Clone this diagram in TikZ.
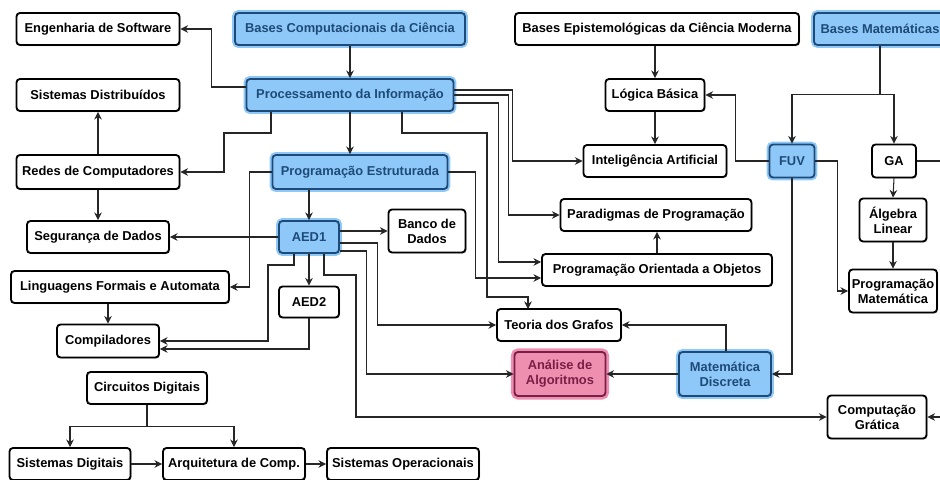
\documentclass[tikz,border=0pt]{standalone}
\usepackage{fontspec}
\setmainfont{Liberation Sans}
\usetikzlibrary{arrows.meta,shadows}
\definecolor{hlblue}{RGB}{142,200,248}
\definecolor{hltxt}{RGB}{30,74,120}
\definecolor{hlpink}{RGB}{238,143,176}
\definecolor{pktxt}{RGB}{122,30,69}

\begin{document}
\begin{tikzpicture}[x=0.03cm, y=-0.03cm,
    every node/.style={font=\bfseries\fontsize{11}{12.8}\selectfont},
    box/.style={draw, rounded corners=3pt, line width=1.6pt, fill=white, align=center,
        inner sep=1pt, minimum height=0.96cm,
        drop shadow={shadow xshift=0.9pt, shadow yshift=-0.9pt, fill=black!35, opacity=0.6}},
    bw/.style={minimum width=#1*0.03cm},
    bh/.style={minimum height=#1*0.03cm},
    hl/.style={fill=hlblue, text=hltxt, draw=hltxt, preaction={draw=hlblue, line width=5pt}},
    hlp/.style={fill=hlpink, text=pktxt, draw=pktxt, preaction={draw=hlpink, line width=6pt}},
    arr/.style={-{Stealth[length=6.5pt, width=6.5pt]}, line width=0.9pt, black!85}]
    \useasboundingbox (0,0) rectangle (940,480);
    \clip (0,0) rectangle (940,480);
    % top row
    \node[box, bw=163] (eng) at (98,29) {Engenharia de Software};
    \node[box, hl, bw=230] (bc) at (350,29) {Bases Computacionais da Ciência};
    \node[box, bw=284] (be) at (657,29) {Bases Epistemológicas da Ciência Moderna};
    \node[box, hl, bw=132] (bm) at (880,29) {Bases Matemáticas};
    % left column
    \node[box, bw=163] (sdist) at (98,95) {Sistemas Distribuídos};
    \node[box, bw=163, bh=34] (redes) at (98,172) {Redes de Computadores};
    \node[box, bw=142] (seg) at (98,237) {Segurança de Dados};
    \node[box, bw=218] (lfa) at (120,287) {Linguagens Formais e Automata};
    \node[box, bw=102, bh=33] (comp) at (108,341) {Compiladores};
    \node[box, bw=120] (cd) at (147,388) {Circuitos Digitais};
    \node[box, bw=121] (sdig) at (70,464) {Sistemas Digitais};
    \node[box, bw=142] (arq) at (234,464) {Arquitetura de Comp.};
    \node[box, bw=152] (so) at (403,464) {Sistemas Operacionais};
    % middle
    \node[box, hl, bw=207] (proc) at (350,95) {Processamento da Informação};
    \node[box, hl, bw=175, bh=34] (pe) at (360,172) {Programação Estruturada};
    \node[box, hl, bw=60] (aed1) at (309,237) {AED1};
    \node[box, bw=77, bh=43] (banco) at (427,231) {Banco de\\Dados};
    \node[box, bw=60, bh=31] (aed2) at (309,302) {AED2};
    \node[box, bw=124] (teoria) at (559,325) {Teoria dos Grafos};
    \node[box, hlp, bw=91, bh=44] (analise) at (560,374) {Análise de\\Algoritmos};
    % right
    \node[box, bw=99] (lb) at (655,95) {Lógica Básica};
    \node[box, bw=143] (ia) at (655,161) {Inteligência Artificial};
    \node[box, bw=191] (par) at (656,215) {Paradigmas de Programação};
    \node[box, bw=230] (poo) at (657,270) {Programação Orientada a Objetos};
    \node[box, hl, bw=45, bh=33] (fuv) at (792,161) {FUV};
    \node[box, bw=44, bh=33] (ga) at (894,161) {GA};
    \node[box, bw=67, bh=43] (al) at (893,220) {Álgebra\\Linear};
    \node[box, bw=88, bh=43] (pm) at (893,291) {Programação\\Matemática};
    \node[box, hl, bw=92, bh=44] (md) at (725,374) {Matemática\\Discreta};
    \node[box, bw=99, bh=43] (cg) at (877,417) {Computação\\Grática};

    % connectors
    \draw[arr] (bc.south) -- (proc.north);
    \draw[arr] ([shift={(0,-8)}]proc.west) -- ++(-34,0) |- (eng.east);
    \draw[arr] (proc.south) -- (proc.south |- pe.north);
    \draw[arr] ([shift={(-79,0)}]proc.south) |- (224,133) |- (redes.east);
    \draw[arr] ([shift={(52,0)}]proc.south) |- (487,133) |- (528,297) -- (528,309);
    \draw[arr] ([shift={(0,-5)}]proc.east) -- ++(58,0) |- (ia.west);
    \draw[arr] (proc.east) -- ++(54,0) |- (par.west);
    \draw[arr] ([shift={(0,8)}]proc.east) -- ++(44,0) |- ([shift={(0,-8)}]poo.west);
    \draw[arr] (pe.east) -- ++(27,0) |- ([shift={(0,8)}]poo.west);
    \draw[arr] (pe.west) -- ++(-22,0) |- (lfa.east);
    \draw[arr] (pe.south -| aed1.north) -- (aed1.north);
    \draw[arr] (redes.north) -- (sdist.south);
    \draw[arr] (redes.south) -- (seg.north);
    \draw[arr] (aed1.west) -- (seg.east);
    \draw[arr] (aed1.east |- banco.west) -- (banco.west);
    \draw[arr] (aed1.south) -- (aed2.north);
    \draw[arr] ([shift={(-15,0)}]aed1.south) |- (268,265) |- (comp.east);
    \draw[arr] (aed2.south) |- ([shift={(0,8)}]comp.east);
    \draw[arr] ([shift={(0,6)}]aed1.east) -- ++(38,0) |- (teoria.west);
    \draw[arr] ([shift={(0,14)}]aed1.east) -- ++(27,0) |- (analise.west);
    \draw[arr] ([shift={(15,0)}]aed1.south) |- (356,275) |- (cg.west);
    \draw[arr] (lfa.south -| comp.north) -- (comp.north);
    \draw[arr] (cd.south) -- ++(0,22) -| (sdig.north);
    \draw[arr] (cd.south) -- ++(0,22) -| (arq.north);
    \draw[arr] (sdig.east) -- (arq.west);
    \draw[arr] (arq.east) -- (so.west);
    \draw[arr] (be.south -| lb.north) -- (lb.north);
    \draw[arr] (lb.south) -- (ia.north);
    \draw[arr] (fuv.west) -- ++(-33,0) |- (lb.east);
    \draw[arr] (bm.south) -- ++(0,49) -| (fuv.north);
    \draw[arr] (bm.south) -- ++(0,49) -| (ga.north);
    \draw[arr] (fuv.east) -- ++(22,0) |- (pm.west);
    \draw[arr] (fuv.south) |- (md.east);
    \draw[arr] (ga.south) -- (al.north);
    \draw[arr] (al.south) -- (pm.north);
    \draw[arr] (ga.east) -- ++(40,0) |- (cg.east);
    \draw[arr] ([shift={(1,0)}]md.north) |- (teoria.east);
    \draw[arr] (md.west) -- (analise.east);
    \draw[arr] (poo.north) -- (poo.north |- par.south);
\end{tikzpicture}
\end{document}
